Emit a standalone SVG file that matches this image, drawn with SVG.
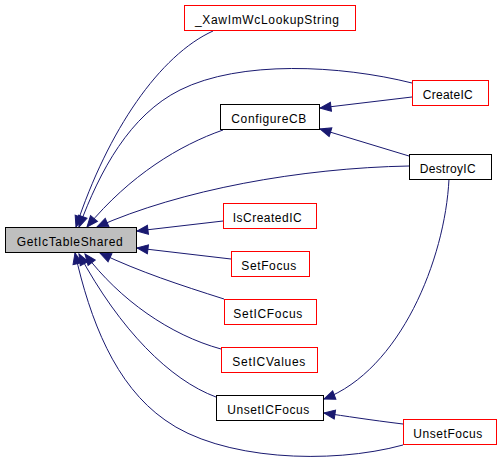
<svg xmlns="http://www.w3.org/2000/svg" width="501" height="473" viewBox="0 0 501 473">
<style>
.n rect{fill:#fff;stroke:#000;stroke-width:1}
.n.r rect{stroke:#f00}
.n.m rect{fill:#bfbfbf}
.n text{font-family:"Liberation Sans",Arial,Helvetica,sans-serif;font-size:12px;fill:#000}
#edges path{fill:none;stroke:#191970;stroke-width:1;marker-end:url(#a)}
</style>
<defs>
<marker id="a" markerUnits="userSpaceOnUse" markerWidth="14" markerHeight="12" viewBox="-1 -6 14 12" refX="11" refY="0" orient="auto">
<path d="M0,-4.5 L11,0 L0,4.5 Z" fill="#191970" stroke="#191970" stroke-width="1"/>
</marker>
</defs>
<rect width="501" height="473" fill="#fff"/>
<g id="edges">
<path d="M213,31 C160,55 108,130 76,227"/>
<path d="M412,83 C340,65 240,60 180,90 C130,115 100,170 79,227"/>
<path d="M223,130 C180,145 130,175 87,227"/>
<path d="M409,166 C300,168 180,190 97,227"/>
<path d="M223,221 L137,231"/>
<path d="M231,259 L137,248"/>
<path d="M224,299 C180,285 140,272 100,253"/>
<path d="M221,349 C170,335 120,300 85,254"/>
<path d="M216,397 C170,380 120,330 79,254"/>
<path d="M403,445 C330,465 220,460 165,420 C115,385 90,320 75,253"/>
<path d="M412,97 L320,108"/>
<path d="M409,156 L320,129"/>
<path d="M449,179 C445,260 400,370 324,399"/>
<path d="M403,424 C370,420 345,416 324,413"/>
</g>
<g id="GetIcTableShared" class="n m"><rect x="5.5" y="227.5" width="131" height="25"/><text x="16.7" y="245.5" textLength="106" lengthAdjust="spacing">GetIcTableShared</text></g>
<g id="XawImWcLookupString" class="n r"><rect x="184.5" y="5.5" width="171" height="25"/><text x="195" y="23.5" textLength="144" lengthAdjust="spacing">_XawImWcLookupString</text></g>
<g id="CreateIC" class="n r"><rect x="412.5" y="80.5" width="76" height="25"/><text x="422.7" y="98.5" textLength="50" lengthAdjust="spacing">CreateIC</text></g>
<g id="ConfigureCB" class="n"><rect x="220.5" y="104.5" width="99" height="25"/><text x="231.3" y="122.5" textLength="75" lengthAdjust="spacing">ConfigureCB</text></g>
<g id="DestroyIC" class="n"><rect x="409.5" y="154.5" width="82" height="25"/><text x="419.7" y="172.5" textLength="56" lengthAdjust="spacing">DestroyIC</text></g>
<g id="IsCreatedIC" class="n r"><rect x="223.5" y="203.5" width="93" height="25"/><text x="232.7" y="221.5" textLength="69" lengthAdjust="spacing">IsCreatedIC</text></g>
<g id="SetFocus" class="n r"><rect x="231.5" y="251.5" width="78" height="25"/><text x="241.3" y="269.5" textLength="55" lengthAdjust="spacing">SetFocus</text></g>
<g id="SetICFocus" class="n r"><rect x="224.5" y="299.5" width="92" height="25"/><text x="233.3" y="317.5" textLength="69" lengthAdjust="spacing">SetICFocus</text></g>
<g id="SetICValues" class="n r"><rect x="221.5" y="347.5" width="96" height="25"/><text x="232.3" y="365.5" textLength="73" lengthAdjust="spacing">SetICValues</text></g>
<g id="UnsetICFocus" class="n"><rect x="216.5" y="395.5" width="107" height="25"/><text x="227.3" y="413.5" textLength="82" lengthAdjust="spacing">UnsetICFocus</text></g>
<g id="UnsetFocus" class="n r"><rect x="403.5" y="419.5" width="93" height="25"/><text x="413.3" y="437.5" textLength="69" lengthAdjust="spacing">UnsetFocus</text></g>
</svg>
